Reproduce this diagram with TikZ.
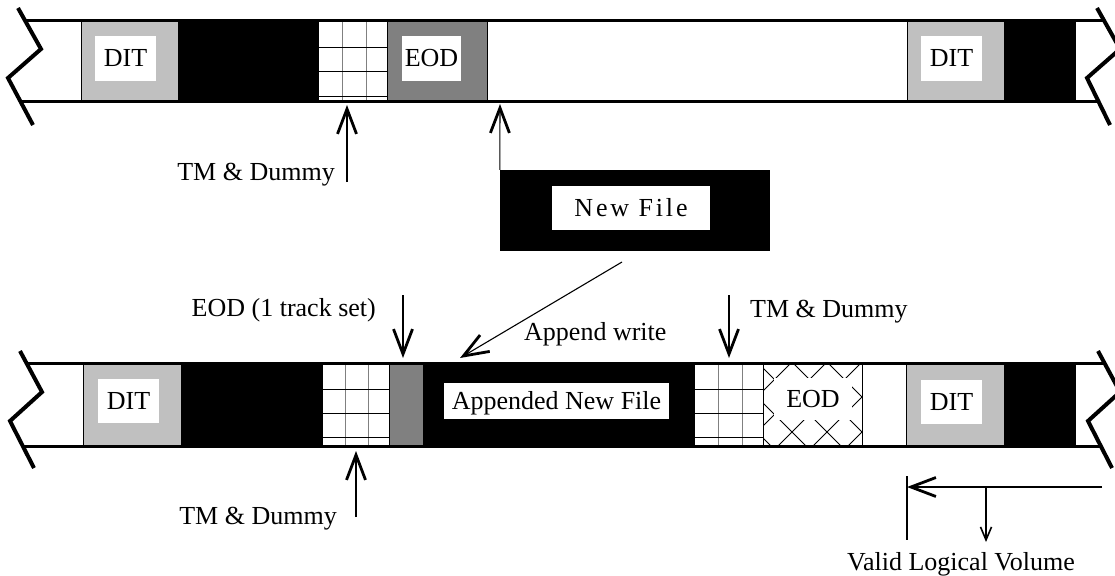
\documentclass[tikz,border=0pt]{standalone}
\usepackage{fontspec}
\setmainfont{Liberation Serif}
\usetikzlibrary{arrows.meta}
\definecolor{ditgray}{HTML}{C0C0C0}
\definecolor{eodgray}{HTML}{808080}

\begin{document}
\begin{tikzpicture}[x=1pt, y=-1pt,
        tape/.style={line width=3pt},
        zig/.style={line width=4pt},
        seg/.style={draw, line width=0.9pt},
        gridv/.style={eodgray, line width=1pt},
        gridh/.style={line width=0.9pt},
        hatch/.style={line width=0.8pt},
        lbl/.style={font=\fontsize{26}{31}\selectfont, inner sep=0pt},
        wbox/.style={fill=white, inner sep=0pt, font=\fontsize{26}{31}\selectfont,
                     text height=17pt, text depth=0pt},
        arr/.style={-{Straight Barb[length=25pt, width=19pt, line width=2.8pt]},
                    line width=1.1pt},
        sarr/.style={-{Straight Barb[length=13pt, width=11pt, line width=1.6pt]},
                     line width=1.1pt}
    ]
        \path[use as bounding box, fill=white] (0,0) rectangle (1115,575);

        % tape before the append
        \draw[seg, fill=ditgray] (81,21) rectangle (178,102);
        \draw[seg, fill=black] (178,21) rectangle (318,102);
        \draw[seg] (318,21) rectangle (387,102);
        \foreach \x in {342,366} \draw[gridv] (\x,22) -- (\x,101);
        \foreach \y in {47,71,96} \draw[gridh] (318,\y) -- (387,\y);
        \draw[seg, fill=eodgray] (387,21) rectangle (487,102);
        \draw[seg] (487,21) rectangle (907,102);
        \draw[seg, fill=ditgray] (907,21) rectangle (1004,102);
        \draw[seg, fill=black] (1004,21) rectangle (1075,102);
        \draw[seg] (1075,21) -- (1075,102);

        \node[wbox, minimum width=61pt, minimum height=45pt] (dita) at (125.5,58.5) {DIT};
        \node[wbox, minimum width=59pt, minimum height=45pt] (eoda) at (431.5,58.5) {EOD};
        \node[wbox, minimum width=61pt, minimum height=45pt] (ditb) at (951.5,58.5) {DIT};

        \draw[tape] (25,21) -- (1104,21);
        \draw[tape] (21,102) -- (1100,102);
        \draw[zig] (18,8) -- (41,49) -- (8,78) -- (33,125);
        \draw[zig] (1097,8) -- (1120,49) -- (1087,78) -- (1110,125);

        \node[lbl, anchor=base east] (tma) at (335,180) {TM \& Dummy};
        \coordinate (tmatail) at (347,182);
        \coordinate (tmatip) at (347,105);
        \draw[arr] (tmatail) -- (tmatip);

        \node[fill=black, inner sep=0pt, minimum width=270pt, minimum height=81pt]
            (newfile) at (635,210.5) {};
        \node[wbox, minimum width=158pt, minimum height=44pt,
              font=\fontsize{26}{31}\selectfont\addfontfeature{LetterSpace=11}]
            (nflabel) at (631,208) {New File};
        \coordinate (gaptip) at (500,104);
        \draw[arr] (newfile.north west) -- (gaptip);

        % tape after the append
        \draw[seg, fill=ditgray] (83,363) rectangle (181,446);
        \draw[seg, fill=black] (181,363) rectangle (322,446);
        \draw[seg] (322,363) rectangle (389,446);
        \foreach \x in {345,368} \draw[gridv] (\x,364) -- (\x,445);
        \foreach \y in {389,413,437} \draw[gridh] (322,\y) -- (389,\y);
        \draw[seg, fill=eodgray] (389,363) rectangle (423,446);
        \draw[seg, fill=black] (423,363) rectangle (694,446);
        \draw[seg] (694,363) rectangle (763,446);
        \foreach \x in {718,742} \draw[gridv] (\x,364) -- (\x,445);
        \foreach \y in {389,413,437} \draw[gridh] (694,\y) -- (763,\y);
        \begin{scope}
            \clip (763,363) rectangle (862,446);
            \foreach \k in {-3,...,5} {
                \draw[hatch] (740,380-35*\k) -- (890,530-35*\k);
                \draw[hatch] (740,484+35*\k) -- (890,334+35*\k);
            }
        \end{scope}
        \draw[seg] (763,363) rectangle (862,446);
        \draw[seg] (862,363) rectangle (906,446);
        \draw[seg, fill=ditgray] (906,363) rectangle (1004,446);
        \draw[seg, fill=black] (1004,363) rectangle (1075,446);
        \draw[seg] (1075,363) -- (1075,446);

        \node[wbox, minimum width=61pt, minimum height=44pt] (ditc) at (128.5,401) {DIT};
        \node[wbox, minimum width=225pt, minimum height=36pt] (appfile) at (556.5,401) {Appended New File};
        \node[wbox, minimum width=78pt, minimum height=42pt] (eodb) at (813,399) {EOD};
        \node[wbox, minimum width=61pt, minimum height=44pt] (ditd) at (951.5,402) {DIT};

        \draw[tape] (27,363) -- (1105,363);
        \draw[tape] (23,446) -- (1101,446);
        \draw[zig] (20,351) -- (42,392) -- (10,421) -- (34,468);
        \draw[zig] (1098,351) -- (1120,392) -- (1088,421) -- (1112,468);

        \node[lbl, anchor=base east] (eodset) at (376,316) {EOD (1 track set)};
        \coordinate (eodtail) at (403,295);
        \coordinate (eodtip) at (403,358);
        \draw[arr] (eodtail) -- (eodtip);

        \node[lbl, anchor=base west] (appwrite) at (524,340) {Append write};
        \coordinate (apptail) at (622,262);
        \coordinate (apptip) at (460,358);
        \draw[arr] (apptail) -- (apptip);

        \node[lbl, anchor=base west] (tmb) at (750,317) {TM \& Dummy};
        \coordinate (tmbtail) at (729,295);
        \coordinate (tmbtip) at (729,358);
        \draw[arr] (tmbtail) -- (tmbtip);

        \node[lbl, anchor=base east] (tmc) at (337,524) {TM \& Dummy};
        \coordinate (tmctail) at (356,517);
        \coordinate (tmctip) at (356,451);
        \draw[arr] (tmctail) -- (tmctip);

        \coordinate (vltop) at (907,476);
        \coordinate (vlbot) at (907,540);
        \draw[line width=1.1pt] (vltop) -- (vlbot);
        \coordinate (vlright) at (1102,487);
        \coordinate (vlleft) at (907,487);
        \draw[arr] (vlright) -- (vlleft);
        \coordinate (vlfork) at (986,487);
        \coordinate (vldown) at (986,542);
        \draw[sarr] (vlfork) -- (vldown);
        \node[lbl, anchor=base] (valid) at (961,570) {Valid Logical Volume};
    \end{tikzpicture}
\end{document}
